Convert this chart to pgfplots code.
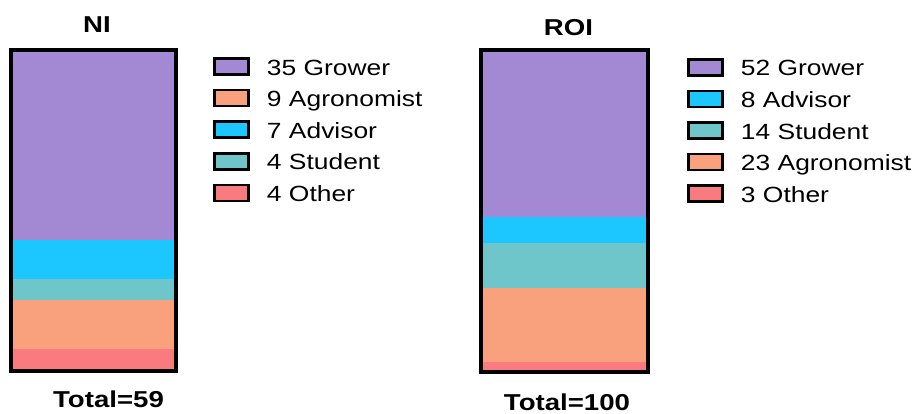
\documentclass[border=0pt]{standalone}
\usepackage{pgfplots}
\pgfplotsset{compat=1.18}
\usepackage{fontspec}
\setmainfont{Liberation Sans}[FakeStretch=1.2]
\definecolor{cgrower}{HTML}{A389D4}
\definecolor{cadvisor}{HTML}{1CC6FF}
\definecolor{cstudent}{HTML}{6EC6CB}
\definecolor{cagro}{HTML}{F9A07C}
\definecolor{cother}{HTML}{F97B80}
\pgfplotsset{
  stackbox/.style={
    scale only axis,
    ybar stacked,
    bar width=1,
    xmin=-0.5, xmax=0.5, ymin=0,
    xtick=\empty, ytick=\empty,
    axis on top,
    axis line style={line width=1.6pt, black},
    every axis plot/.append style={draw=none},
    title style={anchor=base, at={(0.5,1)}, font=\bfseries\fontsize{11.5}{13}\selectfont},
    xlabel style={anchor=base, at={(0.5,0)}, font=\bfseries\fontsize{11.5}{13}\selectfont},
    legend image code/.code={\draw[##1,line width=1.3pt,draw=black] (0pt,0.3pt) rectangle (17pt,8.3pt);},
    legend style={draw=none, fill=none, inner sep=0pt, anchor=north west,
      font=\fontsize{11}{13}\selectfont, row sep=3.8pt, column sep=8.5pt,
      nodes={inner sep=0pt, text height=9pt, text depth=3pt, anchor=base west}},
    legend cell align=left,
  }
}
\begin{document}
\begin{tikzpicture}
\path[use as bounding box] (0,0) rectangle (458.5pt,206.5pt);
\begin{axis}[stackbox, at={(5.5pt,21pt)}, anchor=south west,
  width=82.5pt, height=160.5pt, ymax=59,
  title={NI}, title style={yshift=2.7pt, xshift=1.75pt},
  xlabel={Total=59}, xlabel style={yshift=-18.5pt, xshift=7.5pt},
  legend style={at={(1.2242,0.9794)}}]
\addlegendimage{fill=cgrower}\addlegendentry{35 Grower}
\addlegendimage{fill=cagro}\addlegendentry{9 Agronomist}
\addlegendimage{fill=cadvisor}\addlegendentry{7 Advisor}
\addlegendimage{fill=cstudent}\addlegendentry{4 Student}
\addlegendimage{fill=cother}\addlegendentry{4 Other}
\addplot[fill=cother, forget plot] coordinates {(0,4)};
\addplot[fill=cagro, forget plot] coordinates {(0,9)};
\addplot[fill=cstudent, forget plot] coordinates {(0,4)};
\addplot[fill=cadvisor, forget plot] coordinates {(0,7)};
\addplot[fill=cgrower, forget plot] coordinates {(0,35)};
\end{axis}
\begin{axis}[stackbox, at={(240.5pt,20.5pt)}, anchor=south west,
  width=83.5pt, height=161pt, ymax=100,
  title={ROI}, title style={yshift=1pt, xshift=2pt},
  xlabel={Total=100}, xlabel style={yshift=-19.5pt, xshift=1.25pt},
  legend style={at={(1.2335,0.9764)}}]
\addlegendimage{fill=cgrower}\addlegendentry{52 Grower}
\addlegendimage{fill=cadvisor}\addlegendentry{8 Advisor}
\addlegendimage{fill=cstudent}\addlegendentry{14 Student}
\addlegendimage{fill=cagro}\addlegendentry{23 Agronomist}
\addlegendimage{fill=cother}\addlegendentry{3 Other}
\addplot[fill=cother, forget plot] coordinates {(0,3)};
\addplot[fill=cagro, forget plot] coordinates {(0,23)};
\addplot[fill=cstudent, forget plot] coordinates {(0,14)};
\addplot[fill=cadvisor, forget plot] coordinates {(0,8)};
\addplot[fill=cgrower, forget plot] coordinates {(0,52)};
\end{axis}
\end{tikzpicture}
\end{document}
